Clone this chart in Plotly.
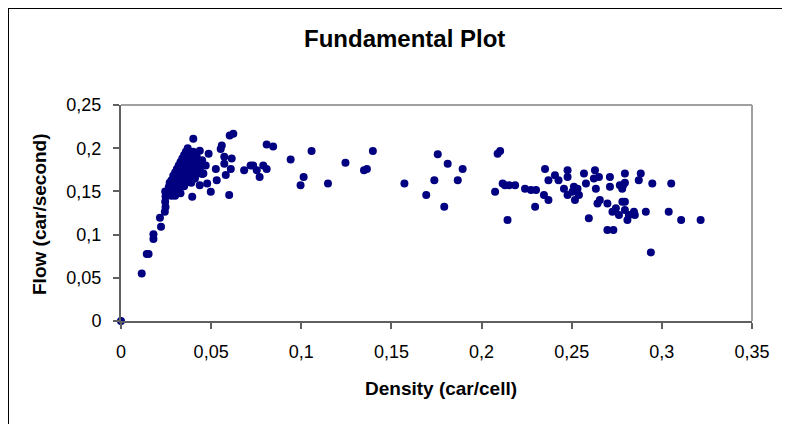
import plotly.graph_objects as go

# Density (car/cell) and Flow (car/second)
density = [
    0, 0.0115, 0.0143, 0.0153, 0.018, 0.018, 0.0222, 0.0216, 0.0243, 0.0247, 0.0245, 0.0247, 0.0245,
    0.0255, 0.026, 0.0265, 0.027, 0.027, 0.028, 0.028, 0.028, 0.029, 0.029, 0.029, 0.030, 0.030, 0.030, 0.030,
    0.031, 0.031, 0.031, 0.031, 0.032, 0.032, 0.032, 0.032, 0.033, 0.033, 0.033, 0.033, 0.033,
    0.034, 0.034, 0.034, 0.034, 0.035, 0.035, 0.035, 0.035, 0.035, 0.036, 0.036, 0.036, 0.036, 0.036,
    0.037, 0.037, 0.037, 0.037, 0.037, 0.038, 0.038, 0.038, 0.038, 0.039, 0.039, 0.039, 0.039,
    0.040, 0.040, 0.040, 0.041, 0.041, 0.041, 0.042, 0.042, 0.042, 0.043, 0.043, 0.044, 0.045, 0.045,
    0.0401, 0.0395, 0.0437, 0.0486, 0.047, 0.0457, 0.0437, 0.0478, 0.0498, 0.0526, 0.0531, 0.0553, 0.0559,
    0.0573, 0.0573, 0.0581, 0.06, 0.0603, 0.0623, 0.0614, 0.0609, 0.0683, 0.0719, 0.0733, 0.0753, 0.0769,
    0.0789, 0.0808, 0.0808, 0.0844, 0.0941, 0.0996, 0.1013, 0.1057, 0.1148, 0.1245, 0.1348, 0.1364, 0.1397,
    0.1572, 0.1693, 0.1738, 0.1757, 0.1793, 0.1812, 0.1868, 0.1895,
    0.2075, 0.2089, 0.2103, 0.2117, 0.213, 0.2153, 0.2144, 0.2186, 0.2241, 0.2274, 0.2302, 0.2297, 0.2346,
    0.2352, 0.2371, 0.2371, 0.2407, 0.2427, 0.2457, 0.2477, 0.2477, 0.2477, 0.2504, 0.2512, 0.2518, 0.2532,
    0.254, 0.2568, 0.2579, 0.2595, 0.2629, 0.2623, 0.2634, 0.2651, 0.2643, 0.2656, 0.2698, 0.2712, 0.2712,
    0.2698, 0.2731, 0.2726, 0.2745, 0.2762, 0.2767, 0.278, 0.2785, 0.2795, 0.2795, 0.2781, 0.2795, 0.2795,
    0.2809, 0.2817, 0.2845, 0.285, 0.2872, 0.2883, 0.2911, 0.2939, 0.2947, 0.3038, 0.3052, 0.3107, 0.3215,
]
flow = [
    0, 0.055, 0.0776, 0.0776, 0.095, 0.1005, 0.109, 0.1195, 0.1265, 0.132, 0.138, 0.144, 0.150,
    0.145, 0.150, 0.155, 0.147, 0.160, 0.152, 0.163, 0.145, 0.157, 0.168, 0.150, 0.162, 0.172, 0.155, 0.145,
    0.166, 0.176, 0.158, 0.150, 0.170, 0.180, 0.162, 0.154, 0.174, 0.184, 0.166, 0.158, 0.148,
    0.178, 0.188, 0.170, 0.162, 0.183, 0.192, 0.174, 0.165, 0.156, 0.186, 0.196, 0.178, 0.168, 0.160,
    0.190, 0.200, 0.180, 0.171, 0.162, 0.185, 0.194, 0.175, 0.166, 0.188, 0.178, 0.169, 0.160,
    0.196, 0.182, 0.172, 0.186, 0.176, 0.165, 0.190, 0.180, 0.170, 0.184, 0.174, 0.178, 0.186, 0.170,
    0.211, 0.1438, 0.197, 0.1936, 0.180, 0.1706, 0.157, 0.159, 0.1495, 0.176, 0.163, 0.199, 0.203,
    0.190, 0.182, 0.169, 0.1457, 0.2147, 0.2166, 0.188, 0.176, 0.1745, 0.180, 0.180, 0.1745, 0.1668,
    0.180, 0.176, 0.2044, 0.202, 0.187, 0.157, 0.1668, 0.1967, 0.159, 0.1833, 0.1745, 0.176, 0.1967,
    0.159, 0.1457, 0.163, 0.1929, 0.1323, 0.1821, 0.163, 0.176,
    0.1495, 0.1936, 0.1967, 0.159, 0.157, 0.157, 0.117, 0.157, 0.153, 0.1515, 0.1515, 0.1323, 0.1457,
    0.176, 0.163, 0.14, 0.1687, 0.163, 0.153, 0.1745, 0.1668, 0.1457, 0.1495, 0.1553, 0.14, 0.153,
    0.1457, 0.1706, 0.159, 0.1189, 0.1745, 0.1649, 0.153, 0.1668, 0.1361, 0.14, 0.1361, 0.1668, 0.1553,
    0.1054, 0.1054, 0.1265, 0.1304, 0.1227, 0.157, 0.153, 0.157, 0.160, 0.1706, 0.138, 0.138, 0.1285,
    0.117, 0.1227, 0.1265, 0.1227, 0.163, 0.1706, 0.1265, 0.0794, 0.159, 0.1265, 0.159, 0.117, 0.117,
]

x_ticks = [0, 0.05, 0.1, 0.15, 0.2, 0.25, 0.3, 0.35]
x_labels = ["0", "0,05", "0,1", "0,15", "0,2", "0,25", "0,3", "0,35"]
y_ticks = [0, 0.05, 0.1, 0.15, 0.2, 0.25]
y_labels = ["0", "0,05", "0,1", "0,15", "0,2", "0,25"]

FONT = "Liberation Sans, Arial, sans-serif"

fig = go.Figure()
fig.add_trace(go.Scatter(
    x=density, y=flow, mode="markers",
    marker=dict(color="#000080", size=8, line=dict(width=0)),
    cliponaxis=False, showlegend=False,
))

# page offset (body margin) and target screen positions of the plot area
OX, OY = 8, 8
W, H = 782, 416
L, R, T, B = 121, 752, 105, 321  # screen pixels

def px(xs):
    return (xs - L) / (R - L)

def py(ys):
    return (B - ys) / (B - T)

fig.update_layout(
    width=W, height=H,
    margin=dict(l=L - OX, r=W - (R - OX), t=T - OY, b=H - (B - OY), pad=0),
    paper_bgcolor="white", plot_bgcolor="white",
    font=dict(family=FONT, color="black"),
    xaxis=dict(range=[0, 0.35], tickvals=x_ticks, ticktext=x_labels,
               showgrid=False, zeroline=False, showline=True, linecolor="#606060", linewidth=2,
               ticks="outside", ticklen=6, tickwidth=1.5, tickcolor="#606060",
               tickfont=dict(size=18, family=FONT), ticklabelstandoff=7),
    yaxis=dict(range=[0, 0.25], tickvals=y_ticks, ticktext=y_labels,
               showgrid=False, zeroline=False, showline=True, linecolor="#606060", linewidth=2,
               ticks="outside", ticklen=6, tickwidth=1.5, tickcolor="#606060",
               tickfont=dict(size=18, family=FONT), ticklabelstandoff=8),
    shapes=[
        # plot area top/right border
        dict(type="line", xref="paper", yref="paper", x0=0, x1=1, y0=1, y1=1,
             line=dict(color="#a0a0a0", width=2)),
        dict(type="line", xref="paper", yref="paper", x0=1, x1=1, y0=0, y1=1,
             line=dict(color="#a0a0a0", width=2)),
        # outer chart border (top and left)
        dict(type="line", xref="paper", yref="paper", x0=px(8), x1=px(800), y0=py(8), y1=py(8),
             line=dict(color="black", width=2)),
        dict(type="line", xref="paper", yref="paper", x0=px(8), x1=px(8), y0=py(8), y1=py(430),
             line=dict(color="black", width=2)),
    ],
    annotations=[
        dict(text="<b>Fundamental Plot</b>", xref="paper", yref="paper", x=px(404), y=py(38),
             showarrow=False, xanchor="center", yanchor="middle", font=dict(size=24, family=FONT)),
        dict(text="<b>Density (car/cell)</b>", xref="paper", yref="paper", x=px(441), y=py(388),
             showarrow=False, xanchor="center", yanchor="middle", font=dict(size=19, family=FONT)),
        dict(text="<b>Flow (car/second)</b>", xref="paper", yref="paper", x=px(39), y=py(214),
             showarrow=False, xanchor="center", yanchor="middle", textangle=-90,
             font=dict(size=19, family=FONT)),
    ],
)

fig.write_html("out.html")
